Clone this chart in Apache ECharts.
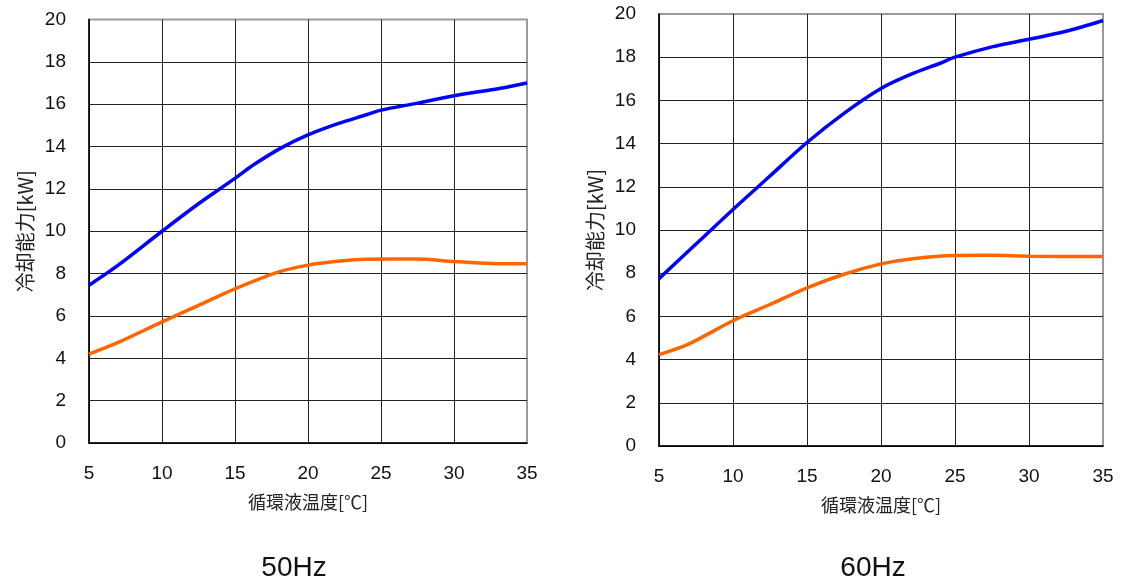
<!DOCTYPE html>
<html>
<head>
<meta charset="utf-8">
<script src="https://cdn.jsdelivr.net/npm/echarts@6/dist/echarts.min.js"></script>
<style>html,body{margin:0;padding:0;background:#fff;}#c{width:1122px;height:580px;}</style>
</head>
<body>
<div id="c"></div>
<script>
// ---- data ----
const xTicks = [5, 10, 15, 20, 25, 30, 35];
const yTicks = [0, 2, 4, 6, 8, 10, 12, 14, 16, 18, 20];
const titles = ['50Hz', '60Hz'];
const xName = '循環液温度[℃]';
const yName = '冷却能力[kW]';

const temp50Blue = [5, 7, 10, 12.5, 15, 16.3, 18.2, 20, 22, 24, 25, 27.5, 30, 33.2, 35];
const cap50Blue  = [7.45, 8.4, 10.0, 11.3, 12.5, 13.15, 13.95, 14.55, 15.07, 15.5, 15.72, 16.05, 16.4, 16.75, 17.0];
const temp50Orange = [5, 7, 10, 12.5, 15, 18, 20, 22, 24, 27.5, 30, 33, 35];
const cap50Orange  = [4.2, 4.75, 5.72, 6.5, 7.28, 8.08, 8.4, 8.58, 8.68, 8.69, 8.57, 8.47, 8.47];

const temp60Blue = [5, 7.5, 10, 12.5, 15, 17.5, 20, 22, 24, 25, 27.5, 30, 32.5, 35];
const cap60Blue  = [7.75, 9.35, 10.95, 12.5, 14.05, 15.4, 16.55, 17.2, 17.72, 18.0, 18.48, 18.83, 19.2, 19.7];
const temp60Orange = [5, 7, 10, 12.5, 15, 17.5, 20, 22, 25, 27.5, 30, 35];
const cap60Orange  = [4.23, 4.72, 5.8, 6.55, 7.32, 7.95, 8.43, 8.66, 8.82, 8.83, 8.79, 8.77];

const zip = (xs, ys) => xs.map((x, i) => [x, ys[i]]);

const labelFont = 'Liberation Sans, Arial, sans-serif';
const cjkFont = '"Noto Sans CJK JP", sans-serif';

function xAxis(gi) {
  return {
    type: 'value', gridIndex: gi, min: xTicks[0], max: xTicks[xTicks.length - 1], interval: 5,
    name: xName, nameLocation: 'middle', nameGap: 50,
    nameTextStyle: { fontFamily: cjkFont, fontSize: 18, color: '#222' },
    axisLine: { show: true, lineStyle: { color: '#000', width: 1.5 } },
    axisTick: { show: false },
    axisLabel: { fontFamily: labelFont, fontSize: 19, color: '#111', margin: 21 },
    splitLine: { show: true, showMaxLine: false, lineStyle: { color: '#222', width: 1 } }
  };
}
function yAxis(gi) {
  return {
    type: 'value', gridIndex: gi, min: yTicks[0], max: yTicks[yTicks.length - 1], interval: 2,
    name: yName, nameLocation: 'middle', nameGap: 54, nameRotate: 90,
    nameTextStyle: { fontFamily: cjkFont, fontSize: 20, color: '#222' },
    axisLine: { show: true, lineStyle: { color: '#000', width: 1.5 } },
    axisTick: { show: false },
    axisLabel: { fontFamily: labelFont, fontSize: 19, color: '#111', margin: 23 },
    splitLine: { show: true, showMaxLine: false, lineStyle: { color: '#222', width: 1 } }
  };
}
function line(gi, data, color) {
  return {
    type: 'line', xAxisIndex: gi, yAxisIndex: gi, data: data, smooth: 0.3,
    showSymbol: false, symbol: 'none', lineStyle: { color: color, width: 3.5 }, z: 5
  };
}

const chart = echarts.init(document.getElementById('c'), null, { renderer: 'canvas' });
chart.setOption({
  animation: false,
  backgroundColor: '#fff',
  title: [
    { text: titles[0], left: 289, top: 549, textAlign: 'center', textStyle: { fontFamily: labelFont, fontSize: 28, fontWeight: 'normal', color: '#111' } },
    { text: titles[1], left: 868, top: 549, textAlign: 'center', textStyle: { fontFamily: labelFont, fontSize: 28, fontWeight: 'normal', color: '#111' } }
  ],
  grid: [
    { left: 89, top: 19.5, width: 438, height: 423.5, show: true, borderColor: '#999', borderWidth: 2, backgroundColor: '#fff' },
    { left: 659, top: 14, width: 444, height: 432, show: true, borderColor: '#999', borderWidth: 2, backgroundColor: '#fff' }
  ],
  xAxis: [xAxis(0), xAxis(1)],
  yAxis: [yAxis(0), yAxis(1)],
  series: [
    line(0, zip(temp50Blue, cap50Blue), '#0000ff'),
    line(0, zip(temp50Orange, cap50Orange), '#ff6600'),
    line(1, zip(temp60Blue, cap60Blue), '#0000ff'),
    line(1, zip(temp60Orange, cap60Orange), '#ff6600')
  ]
});
</script>
</body>
</html>
